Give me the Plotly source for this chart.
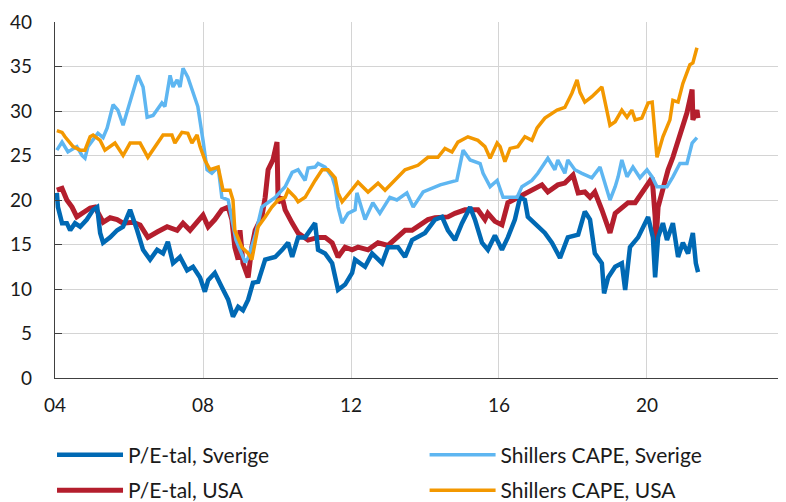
import plotly.graph_objects as go

# P/E-tal, Sverige
yr_pe_se = [2004.05, 2004.08, 2004.19, 2004.32, 2004.41, 2004.54, 2004.68, 2004.86, 2005.03, 2005.14,
            2005.22, 2005.30, 2005.49, 2005.68, 2005.84, 2006.03, 2006.22, 2006.38, 2006.57, 2006.76,
            2006.92, 2007.05, 2007.19, 2007.38, 2007.57, 2007.73, 2007.92, 2008.05, 2008.14, 2008.32,
            2008.51, 2008.68, 2008.81, 2008.95, 2009.08, 2009.22, 2009.35, 2009.49, 2009.68, 2009.95,
            2010.14, 2010.30, 2010.41, 2010.57, 2010.76, 2010.95, 2011.03, 2011.11, 2011.30, 2011.49,
            2011.65, 2011.84, 2012.03, 2012.11, 2012.38, 2012.57, 2012.84, 2013.00, 2013.27, 2013.46,
            2013.65, 2014.00, 2014.27, 2014.46, 2014.62, 2014.81, 2015.00, 2015.22, 2015.35, 2015.54,
            2015.70, 2015.89, 2016.08, 2016.24, 2016.43, 2016.57, 2016.70, 2016.78, 2016.97, 2017.24,
            2017.43, 2017.65, 2017.86, 2018.14, 2018.32, 2018.46, 2018.59, 2018.78, 2018.84, 2018.95,
            2019.14, 2019.32, 2019.41, 2019.54, 2019.76, 2019.95, 2020.03, 2020.16, 2020.22, 2020.30,
            2020.43, 2020.54, 2020.70, 2020.84, 2020.97, 2021.11, 2021.24, 2021.32, 2021.38]
pe_se = [20.8, 19.2, 17.4, 17.4, 16.6, 17.4, 17.0, 17.8, 18.9, 19.2,
         16.3, 15.2, 15.8, 16.6, 17.0, 18.9, 16.6, 14.4, 13.3, 14.4,
         14.0, 15.3, 12.9, 13.6, 12.1, 12.5, 11.3, 9.7, 11.0, 11.8,
         10.2, 8.8, 6.9, 8.0, 7.6, 8.8, 10.7, 10.8, 13.3, 13.6,
         14.4, 15.2, 13.6, 15.8, 15.8, 17.0, 17.4, 14.4, 14.0, 12.9,
         9.9, 10.5, 11.8, 13.3, 12.5, 14.0, 12.9, 14.7, 14.7, 13.6,
         15.5, 16.3, 17.8, 18.1, 16.6, 15.5, 17.4, 19.2, 17.8, 15.2,
         14.4, 16.0, 14.4, 15.8, 17.8, 20.3, 20.0, 18.1, 17.4, 16.3,
         15.2, 13.5, 15.8, 16.1, 18.7, 17.8, 14.0, 12.9, 9.5, 11.3,
         12.5, 12.9, 9.9, 14.7, 15.8, 17.4, 18.1, 15.8, 11.3, 15.8,
         17.4, 15.5, 17.4, 13.6, 15.2, 14.0, 16.3, 12.9, 11.9]

# P/E-tal, USA
yr_pe_us = [2004.05, 2004.19, 2004.32, 2004.46, 2004.59, 2004.76, 2004.95, 2005.08, 2005.30, 2005.49,
            2005.68, 2005.84, 2006.11, 2006.30, 2006.51, 2006.76, 2007.03, 2007.30, 2007.46, 2007.65,
            2007.84, 2008.00, 2008.14, 2008.32, 2008.51, 2008.68, 2008.78, 2008.86, 2008.95, 2009.00,
            2009.08, 2009.22, 2009.32, 2009.41, 2009.59, 2009.68, 2009.76, 2009.89, 2010.00, 2010.03,
            2010.14, 2010.22, 2010.41, 2010.57, 2010.84, 2011.11, 2011.30, 2011.49, 2011.65, 2011.84,
            2012.03, 2012.19, 2012.46, 2012.73, 2013.00, 2013.27, 2013.46, 2013.65, 2013.92, 2014.08,
            2014.27, 2014.46, 2014.62, 2014.81, 2015.08, 2015.27, 2015.43, 2015.62, 2015.70, 2015.89,
            2016.08, 2016.24, 2016.51, 2016.70, 2016.89, 2017.16, 2017.32, 2017.59, 2017.78, 2018.00,
            2018.14, 2018.32, 2018.46, 2018.59, 2018.78, 2019.00, 2019.14, 2019.32, 2019.49, 2019.68,
            2019.86, 2020.08, 2020.14, 2020.22, 2020.24, 2020.30, 2020.43, 2020.57, 2020.70, 2020.84,
            2020.97, 2021.08, 2021.22, 2021.24, 2021.35, 2021.38]
pe_us = [21.1, 21.3, 20.0, 19.2, 18.1, 18.5, 19.1, 19.2, 17.5, 18.0,
         17.8, 17.4, 17.5, 17.2, 15.8, 16.4, 17.0, 16.6, 17.4, 16.6,
         17.5, 18.3, 17.0, 17.8, 18.9, 19.2, 17.8, 14.7, 13.3, 16.6,
         12.9, 11.3, 14.7, 16.6, 18.1, 20.3, 23.4, 24.5, 26.5, 19.7,
         20.3, 18.9, 17.4, 16.3, 15.5, 15.8, 15.8, 15.2, 13.6, 14.7,
         14.4, 14.7, 14.4, 15.2, 14.9, 15.8, 16.6, 16.6, 17.4, 17.8,
         18.0, 18.1, 18.1, 18.5, 18.9, 18.9, 18.9, 17.8, 18.5, 17.6,
         17.2, 19.7, 20.3, 20.8, 21.1, 21.7, 20.9, 21.7, 21.9, 22.8,
         20.8, 20.9, 20.3, 20.9, 18.9, 16.3, 18.5, 19.2, 19.7, 19.7,
         20.8, 22.0, 22.5, 18.1, 15.0, 19.2, 21.5, 23.4, 24.8, 26.7,
         28.2, 29.8, 32.4, 29.0, 30.1, 29.2]

# Shillers CAPE, Sverige
yr_cape_se = [2004.05, 2004.19, 2004.35, 2004.59, 2004.73, 2004.81, 2004.89, 2005.16, 2005.30, 2005.41,
              2005.57, 2005.70, 2005.84, 2006.03, 2006.24, 2006.38, 2006.49, 2006.65, 2006.89, 2006.97,
              2007.11, 2007.19, 2007.30, 2007.38, 2007.46, 2007.59, 2007.73, 2007.86, 2008.00, 2008.11,
              2008.24, 2008.41, 2008.51, 2008.68, 2008.89, 2009.14, 2009.22, 2009.41, 2009.59, 2009.95,
              2010.22, 2010.41, 2010.57, 2010.76, 2010.84, 2011.03, 2011.11, 2011.30, 2011.49, 2011.57,
              2011.65, 2011.76, 2011.92, 2012.11, 2012.16, 2012.38, 2012.59, 2012.78, 2013.05, 2013.24,
              2013.51, 2013.68, 2013.95, 2014.41, 2014.86, 2015.03, 2015.22, 2015.49, 2015.57, 2015.76,
              2015.95, 2016.11, 2016.49, 2016.62, 2016.89, 2017.05, 2017.32, 2017.51, 2017.59, 2017.78,
              2017.86, 2018.05, 2018.24, 2018.51, 2018.73, 2018.92, 2019.00, 2019.14, 2019.22, 2019.32,
              2019.46, 2019.62, 2019.81, 2020.00, 2020.14, 2020.27, 2020.54, 2020.70, 2020.89, 2021.08,
              2021.22, 2021.35]
cape_se = [25.6, 26.5, 25.4, 26.0, 25.0, 24.7, 26.0, 27.5, 27.0, 28.1,
           30.7, 30.1, 28.4, 31.2, 34.0, 32.7, 29.3, 29.5, 30.9, 30.5,
           34.0, 32.7, 33.5, 32.7, 34.8, 33.8, 32.0, 30.5, 26.7, 23.4,
           23.0, 23.7, 20.3, 20.0, 15.5, 13.0, 13.5, 16.0, 19.2, 20.3,
           21.5, 23.1, 23.4, 22.2, 23.6, 23.7, 24.1, 23.7, 22.6, 21.5,
           19.2, 17.4, 18.5, 18.9, 20.8, 17.8, 19.7, 18.5, 20.3, 20.0,
           20.8, 19.2, 20.9, 21.7, 22.2, 25.6, 24.5, 24.1, 23.0, 21.5,
           22.2, 20.3, 20.3, 21.5, 22.2, 23.0, 24.7, 23.4, 24.5, 23.0,
           24.5, 23.4, 23.0, 22.5, 23.7, 21.1, 20.0, 21.5, 22.6, 24.5,
           22.6, 23.7, 22.5, 23.4, 22.6, 21.5, 21.5, 22.6, 24.1, 24.1,
           26.4, 27.0]

# Shillers CAPE, USA
yr_cape_us = [2004.05, 2004.19, 2004.27, 2004.41, 2004.49, 2004.68, 2004.81, 2004.95, 2005.03, 2005.22,
              2005.35, 2005.62, 2005.84, 2006.03, 2006.30, 2006.51, 2006.76, 2006.92, 2007.16, 2007.24,
              2007.43, 2007.59, 2007.70, 2007.84, 2007.92, 2008.05, 2008.19, 2008.41, 2008.54, 2008.73,
              2008.81, 2008.86, 2009.05, 2009.22, 2009.32, 2009.49, 2009.68, 2009.86, 2010.03, 2010.22,
              2010.30, 2010.49, 2010.57, 2010.76, 2011.03, 2011.22, 2011.38, 2011.57, 2011.65, 2011.76,
              2011.92, 2012.05, 2012.19, 2012.46, 2012.73, 2012.92, 2013.27, 2013.46, 2013.81, 2014.08,
              2014.35, 2014.54, 2014.73, 2014.89, 2015.16, 2015.43, 2015.62, 2015.76, 2015.95, 2016.03,
              2016.16, 2016.30, 2016.51, 2016.70, 2016.89, 2017.03, 2017.24, 2017.57, 2017.78, 2017.97,
              2018.11, 2018.19, 2018.32, 2018.51, 2018.78, 2018.92, 2019.00, 2019.14, 2019.32, 2019.46,
              2019.59, 2019.68, 2019.86, 2020.03, 2020.14, 2020.16, 2020.27, 2020.43, 2020.62, 2020.70,
              2020.84, 2020.97, 2021.16, 2021.24, 2021.35]
cape_us = [27.8, 27.6, 27.1, 26.4, 26.0, 25.6, 25.6, 27.1, 27.3, 26.7,
           25.6, 26.4, 25.0, 26.4, 26.4, 24.8, 26.4, 27.3, 27.3, 26.4,
           27.6, 27.5, 26.4, 27.3, 26.0, 24.5, 23.4, 23.7, 21.1, 21.1,
           20.0, 16.6, 14.7, 14.0, 13.3, 17.0, 18.1, 19.2, 20.0, 20.3,
           21.1, 20.3, 19.8, 20.3, 22.2, 23.4, 23.4, 22.5, 20.8, 19.8,
           20.6, 21.3, 22.0, 20.9, 21.9, 21.1, 22.6, 23.4, 23.9, 24.8,
           24.8, 25.8, 25.4, 26.5, 27.1, 26.7, 26.0, 24.7, 26.4, 26.0,
           24.3, 25.8, 26.0, 27.1, 26.7, 28.1, 29.2, 30.1, 30.4, 32.0,
           33.5, 32.1, 31.0, 31.6, 32.7, 30.1, 28.4, 28.8, 30.1, 29.3,
           30.1, 29.0, 29.2, 30.9, 31.0, 30.1, 24.8, 27.1, 29.0, 31.2,
           31.0, 33.1, 35.2, 35.4, 37.1]

tick_years = [2004, 2008, 2012, 2016, 2020]
tick_text = ["04", "08", "12", "16", "20"]

FONT = "Lato"

fig = go.Figure()
# drawn order: USA P/E under Swedish P/E, CAPE lines on top
fig.add_trace(go.Scatter(x=yr_pe_us, y=pe_us, mode="lines", name="P/E-tal, USA",
                         line=dict(color="#B41E2D", width=5), legend="legend",
                         legendgroup="c", legendrank=2))
fig.add_trace(go.Scatter(x=yr_pe_se, y=pe_se, mode="lines", name="P/E-tal, Sverige",
                         line=dict(color="#0069B4", width=4.5), legend="legend",
                         legendgroup="a", legendrank=1))
fig.add_trace(go.Scatter(x=yr_cape_se, y=cape_se, mode="lines", name="Shillers CAPE, Sverige",
                         line=dict(color="#5EB6F1", width=3.5), legend="legend2",
                         legendgroup="b", legendrank=1))
fig.add_trace(go.Scatter(x=yr_cape_us, y=cape_us, mode="lines", name="Shillers CAPE, USA",
                         line=dict(color="#F39800", width=3.5), legend="legend2",
                         legendgroup="d", legendrank=2))

leg_style = dict(orientation="v", xanchor="left", yanchor="top",
                 xref="container", yref="container", y=0.150,
                 font=dict(family=FONT, size=21, color="#1a1a1a"),
                 bgcolor="rgba(0,0,0,0)", itemwidth=66, tracegroupgap=5,
                 traceorder="grouped")

# the page adds an 8px offset, so margins are 8px smaller than the target positions
fig.update_layout(
    width=786, height=502,
    margin=dict(l=47, r=9, t=14, b=132, autoexpand=False),
    paper_bgcolor="white", plot_bgcolor="white",
    font=dict(family=FONT, size=19, color="#1a1a1a"),
    showlegend=True,
    legend=dict(x=0.056, **leg_style),
    legend2=dict(x=0.530, **leg_style),
    xaxis=dict(range=[2004, 2023.73], tickvals=tick_years, ticktext=tick_text,
               showgrid=True, gridcolor="#d4d4d4", gridwidth=1,
               showline=True, linecolor="#404040", linewidth=1.3,
               ticks="", ticklabelstandoff=10, zeroline=False, automargin=False),
    yaxis=dict(range=[0, 40], dtick=5, tick0=0,
               showgrid=True, gridcolor="#d4d4d4", gridwidth=1,
               showline=True, linecolor="#404040", linewidth=1.3,
               ticks="inside", ticklen=7, tickcolor="#404040",
               ticklabelstandoff=18, zeroline=False, automargin=False),
)

fig.write_html("out.html")
